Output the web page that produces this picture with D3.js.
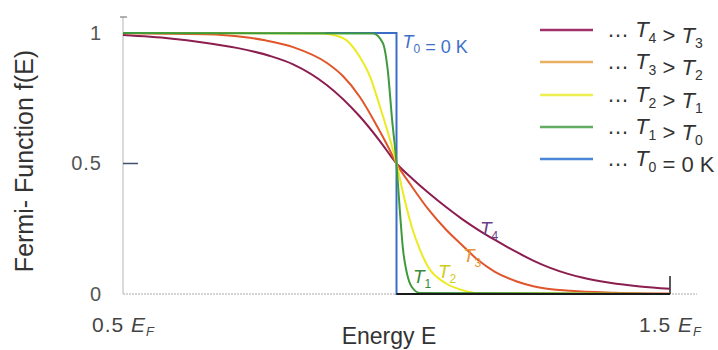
<!DOCTYPE html>
<html>
<head>
<meta charset="utf-8">
<script src="https://cdn.jsdelivr.net/npm/d3@7"></script>
<style>
body { margin: 0; background: #fff; }
svg { font-family: "Liberation Sans", Arial, sans-serif; }
</style>
</head>
<body>
<svg id="drawing_region"></svg>
<script>
// energy in units of E_F, f(E)
const energyT4 = [0.500, 0.586, 0.646, 0.708, 0.769, 0.811, 0.873, 0.933, 0.970, 1.000, 1.030, 1.060, 1.090, 1.120, 1.150, 1.180, 1.220, 1.250, 1.281, 1.312, 1.341, 1.390, 1.445, 1.500];
const fermiT4  = [0.992, 0.979, 0.964, 0.943, 0.912, 0.880, 0.800, 0.680, 0.585, 0.500, 0.440, 0.385, 0.334, 0.287, 0.245, 0.207, 0.160, 0.128, 0.100, 0.078, 0.062, 0.043, 0.029, 0.020];

const energyT3 = [0.500, 0.650, 0.720, 0.760, 0.811, 0.873, 0.902, 0.933, 0.964, 0.982, 1.000, 1.028, 1.058, 1.089, 1.120, 1.149, 1.180, 1.220, 1.250, 1.318, 1.400, 1.500];
const fermiT3  = [0.999, 0.995, 0.985, 0.972, 0.946, 0.885, 0.835, 0.755, 0.645, 0.575, 0.500, 0.412, 0.325, 0.250, 0.187, 0.130, 0.085, 0.048, 0.030, 0.012, 0.005, 0.002];

const energyT2 = [0.500, 0.860, 0.902, 0.933, 0.952, 0.970, 0.983, 1.000, 1.012, 1.028, 1.043, 1.058, 1.089, 1.120, 1.149, 1.500];
const fermiT2  = [1.000, 0.998, 0.981, 0.908, 0.831, 0.716, 0.628, 0.500, 0.387, 0.257, 0.169, 0.103, 0.042, 0.015, 0.004, 0.000];

const energyT1 = [0.500, 0.957, 0.975, 0.984, 0.992, 1.000, 1.006, 1.012, 1.019, 1.028, 1.043, 1.500];
const fermiT1  = [1.000, 0.998, 0.962, 0.858, 0.667, 0.500, 0.322, 0.169, 0.080, 0.027, 0.004, 0.000];

const energyT0 = [0.5, 1.0, 1.0, 1.5];
const fermiT0  = [1, 1, 0, 0];

const seriesNames = ['T4', 'T3', 'T2', 'T1', 'T0'];
const legendSub = [['4', '3'], ['3', '2'], ['2', '1'], ['1', '0'], ['0', null]];
const yTicks = [0, 0.5, 1];
const xTicks = [0.5, 1.5];

const W = 718, H = 350;
const svg = d3.select('#drawing_region').attr('width', W).attr('height', H);

const x = d3.scaleLinear().domain([0.5, 1.5]).range([123, 670]);
const y = d3.scaleLinear().domain([0, 1]).range([294, 33]);

const colors = { T4: '#8c1d4f', T3: '#e0552a', T2: '#ecea22', T1: '#3f9a3c', T0: '#3b6cc6' };
const legendColors = { T4: '#a0306a', T3: '#e8b060', T2: '#eeee50', T1: '#62ad62', T0: '#4a86d8' };

const zip = (ex, fy) => ex.map((e, i) => ({ e: e, f: fy[i] }));
const series = {
    T4: zip(energyT4, fermiT4),
    T3: zip(energyT3, fermiT3),
    T2: zip(energyT2, fermiT2),
    T1: zip(energyT1, fermiT1),
    T0: zip(energyT0, fermiT0)
};

// axes
svg.append('line')
    .attr('x1', x(0.5)).attr('x2', x(0.5))
    .attr('y1', y(1) - 16).attr('y2', y(0))
    .attr('stroke', '#b5b5b5').attr('stroke-width', 1);
svg.append('line')
    .attr('x1', x(0.5) - 3).attr('x2', x(0.5) + 4)
    .attr('y1', y(1) - 16).attr('y2', y(1) - 16)
    .attr('stroke', '#666').attr('stroke-width', 1);
svg.append('line')
    .attr('x1', x(0.5)).attr('x2', 697)
    .attr('y1', y(0)).attr('y2', y(0))
    .attr('stroke', '#aaa').attr('stroke-width', 1)
    .attr('stroke-dasharray', '2,1');
svg.append('line')
    .attr('x1', x(0.5)).attr('x2', x(0.5) + 15)
    .attr('y1', y(0.5)).attr('y2', y(0.5))
    .attr('stroke', '#3e5270').attr('stroke-width', 1.5);
svg.append('line')
    .attr('x1', x(1.5)).attr('x2', x(1.5))
    .attr('y1', y(0) - 18).attr('y2', y(0))
    .attr('stroke', '#222').attr('stroke-width', 1.5);

const yaxis = d3.axisLeft(y).tickValues(yTicks).tickSize(0).tickPadding(21)
    .tickFormat(d => d === 0.5 ? '0.5' : d);
const yg = svg.append('g').attr('transform', `translate(${x(0.5)},0)`).call(yaxis);
yg.select('.domain').remove();
yg.selectAll('text')
    .attr('font-size', 20).attr('fill', '#555')
    .attr('font-family', '"Liberation Sans", Arial, sans-serif')
    .attr('letter-spacing', 1);

const xaxis = d3.axisBottom(x).tickValues(xTicks).tickSize(0).tickPadding(23);
const xg = svg.append('g').attr('transform', `translate(0,${y(0)})`).call(xaxis);
xg.select('.domain').remove();
xg.selectAll('.tick text')
    .attr('font-size', 21).attr('fill', '#444')
    .attr('font-family', '"Liberation Sans", Arial, sans-serif')
    .attr('letter-spacing', 1)
    .each(function (d) {
        const t = d3.select(this).text(null);
        t.append('tspan').text(d + ' ');
        t.append('tspan').attr('font-style', 'italic').text('E');
        t.append('tspan').attr('font-style', 'italic').attr('font-size', 13).attr('dy', 4).text('F');
    });

// curves
const line = d3.line().x(d => x(d.e)).y(d => y(d.f)).curve(d3.curveMonotoneX);
const step = d3.line().x(d => x(d.e)).y(d => y(d.f));

svg.append('path')
    .attr('d', step(series.T0))
    .attr('fill', 'none').attr('stroke', colors.T0).attr('stroke-width', 2);

['T4', 'T3', 'T2', 'T1'].forEach(k => {
    svg.append('path')
        .attr('d', line(series[k]))
        .attr('fill', 'none')
        .attr('stroke', colors[k])
        .attr('stroke-width', 2);
});

// dark baseline of the T0 step
svg.append('path')
    .attr('d', step(series.T0.slice(2)))
    .attr('fill', 'none').attr('stroke', '#1a1a1a').attr('stroke-width', 2);

// subscript text helper
function tLabel(sel, sub, size, subSize) {
    sel.append('tspan').attr('font-style', 'italic').text('T');
    sel.append('tspan').attr('font-size', subSize).attr('dy', size * 0.25).text(sub);
    sel.append('tspan').attr('dy', -size * 0.25).text('');
}

// curve labels
const curveLabels = [
    { sub: '4', ex: 480, fy: 0.225, c: '#6a3d8a' },
    { sub: '3', ex: 463, fy: 0.122, c: '#e8943a' },
    { sub: '2', ex: 438, fy: 0.061, c: '#cfcb20' },
    { sub: '1', ex: 413, fy: 0.042, c: '#3a8a3a' }
];
curveLabels.forEach(l => {
    const t = svg.append('text')
        .attr('x', l.ex).attr('y', y(l.fy))
        .attr('font-size', 19).attr('fill', l.c);
    tLabel(t, l.sub, 19, 12);
});

const t0 = svg.append('text')
    .attr('x', x(1.0) + 6).attr('y', y(1) + 15)
    .attr('font-size', 18).attr('fill', '#3d70c8');
tLabel(t0, '0', 18, 12);
t0.append('tspan').text(' = 0 K');

// legend
const legendY = [30, 62, 95, 127, 159];
seriesNames.forEach((k, i) => {
    svg.append('line')
        .attr('x1', 540).attr('x2', 593)
        .attr('y1', legendY[i]).attr('y2', legendY[i])
        .attr('stroke', legendColors[k]).attr('stroke-width', 2.5);
    const t = svg.append('text')
        .attr('x', 607).attr('y', legendY[i] + 7)
        .attr('font-size', 22).attr('fill', '#333');
    t.append('tspan').text('\u2026 ');
    tLabel(t, legendSub[i][0], 22, 14);
    if (legendSub[i][1] !== null) {
        t.append('tspan').text(' > ');
        tLabel(t, legendSub[i][1], 22, 14);
    } else {
        t.append('tspan').text(' = 0 K');
    }
});

// titles
svg.append('text')
    .attr('transform', 'translate(33,161) rotate(-90)')
    .attr('text-anchor', 'middle')
    .attr('font-size', 25).attr('fill', '#333')
    .text('Fermi- Function  f(E)');

svg.append('text')
    .attr('x', 389).attr('y', 344)
    .attr('text-anchor', 'middle')
    .attr('font-size', 23).attr('fill', '#333')
    .text('Energy E');
</script>
</body>
</html>
